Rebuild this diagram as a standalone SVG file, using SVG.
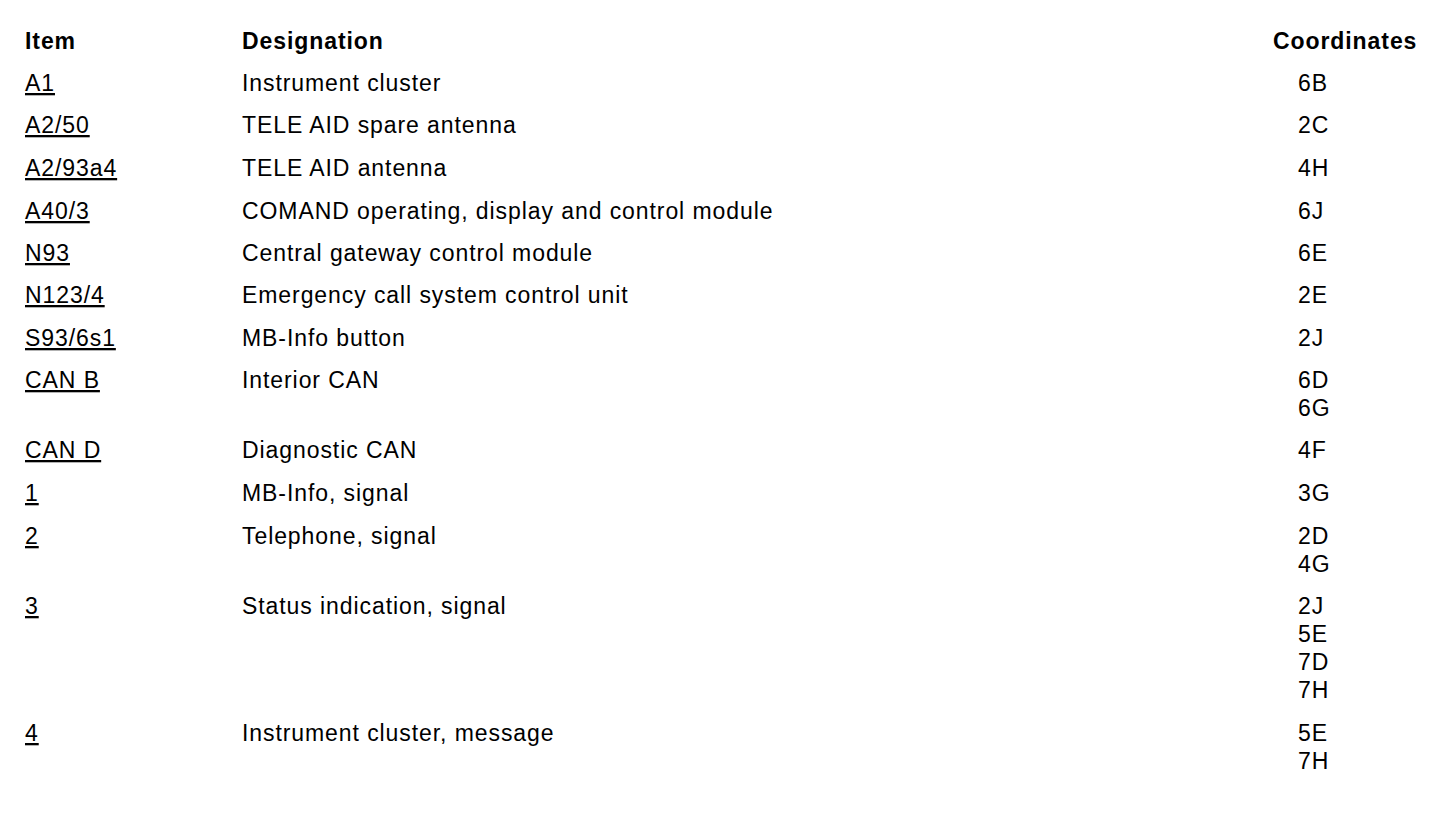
<svg xmlns="http://www.w3.org/2000/svg" width="1456" height="824" viewBox="0 0 1456 824">
<style>
text{font-family:"Liberation Sans",Arial,sans-serif;font-size:23px;fill:#000;letter-spacing:0.92px}
.h{font-weight:bold}
.u{text-decoration:underline;text-decoration-thickness:2.4px}
</style>
<rect width="1456" height="824" fill="#fff"/>
<g id="header">
<text class="h" x="25" y="49">Item</text>
<text class="h" x="242" y="49">Designation</text>
<text class="h" x="1273" y="49">Coordinates</text>
</g>
<g id="row-A1">
<text class="u" x="25" y="91">A1</text>
<text x="242" y="91">Instrument cluster</text>
<text x="1298" y="91">6B</text>
</g>
<g id="row-A2-50">
<text class="u" x="25" y="133">A2/50</text>
<text x="242" y="133">TELE AID spare antenna</text>
<text x="1298" y="133">2C</text>
</g>
<g id="row-A2-93a4">
<text class="u" x="25" y="176">A2/93a4</text>
<text x="242" y="176">TELE AID antenna</text>
<text x="1298" y="176">4H</text>
</g>
<g id="row-A40-3">
<text class="u" x="25" y="219">A40/3</text>
<text x="242" y="219">COMAND operating, display and control module</text>
<text x="1298" y="219">6J</text>
</g>
<g id="row-N93">
<text class="u" x="25" y="261">N93</text>
<text x="242" y="261">Central gateway control module</text>
<text x="1298" y="261">6E</text>
</g>
<g id="row-N123-4">
<text class="u" x="25" y="303">N123/4</text>
<text x="242" y="303">Emergency call system control unit</text>
<text x="1298" y="303">2E</text>
</g>
<g id="row-S93-6s1">
<text class="u" x="25" y="346">S93/6s1</text>
<text x="242" y="346">MB-Info button</text>
<text x="1298" y="346">2J</text>
</g>
<g id="row-CANB">
<text class="u" x="25" y="388">CAN B</text>
<text x="242" y="388">Interior CAN</text>
<text x="1298" y="388">6D</text>
<text x="1298" y="416">6G</text>
</g>
<g id="row-CAND">
<text class="u" x="25" y="458">CAN D</text>
<text x="242" y="458">Diagnostic CAN</text>
<text x="1298" y="458">4F</text>
</g>
<g id="row-1">
<text class="u" x="25" y="501">1</text>
<text x="242" y="501">MB-Info, signal</text>
<text x="1298" y="501">3G</text>
</g>
<g id="row-2">
<text class="u" x="25" y="544">2</text>
<text x="242" y="544">Telephone, signal</text>
<text x="1298" y="544">2D</text>
<text x="1298" y="572">4G</text>
</g>
<g id="row-3">
<text class="u" x="25" y="614">3</text>
<text x="242" y="614">Status indication, signal</text>
<text x="1298" y="614">2J</text>
<text x="1298" y="642">5E</text>
<text x="1298" y="670">7D</text>
<text x="1298" y="698">7H</text>
</g>
<g id="row-4">
<text class="u" x="25" y="741">4</text>
<text x="242" y="741">Instrument cluster, message</text>
<text x="1298" y="741">5E</text>
<text x="1298" y="769">7H</text>
</g>
<g id="connectors"/>
</svg>
